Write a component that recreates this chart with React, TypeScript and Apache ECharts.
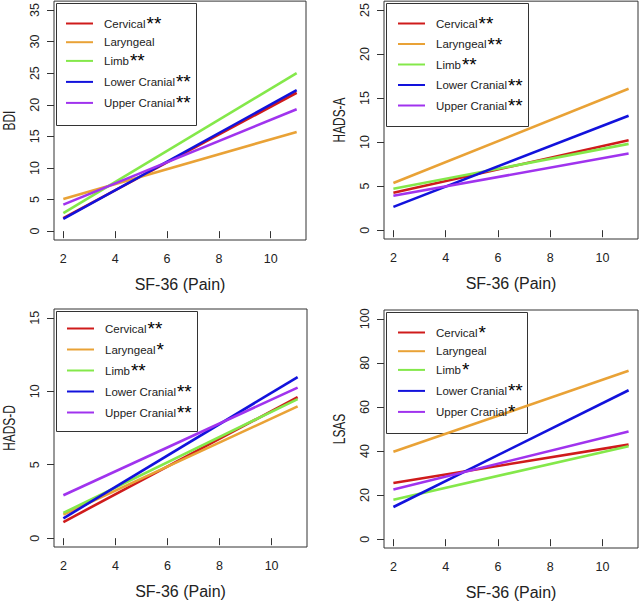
import React, { useEffect, useRef } from "react";
import * as echarts from "echarts";

// ---------- data ----------
const xEnds = [2, 11];
const xTicks = [2, 4, 6, 8, 10];
const groups = ["Cervical", "Laryngeal", "Limb", "Lower Cranial", "Upper Cranial"];
const groupColors = ["#CF1B1B", "#E9A236", "#84E84A", "#1212DC", "#A033EE"];

const panelTitles = ["BDI", "HADS-A", "HADS-D", "LSAS"];
const xTitle = "SF-36 (Pain)";

const bdiTicks = [0, 5, 10, 15, 20, 25, 30, 35];
const hadsATicks = [0, 5, 10, 15, 20, 25];
const hadsDTicks = [0, 5, 10, 15];
const lsasTicks = [0, 20, 40, 60, 80, 100];

// fitted values at SF-36 (Pain) = 2 and = 11
const bdiStart = [2.05, 5.1, 2.85, 1.95, 4.2];
const bdiEnd = [21.9, 15.7, 25.0, 22.3, 19.3];
const hadsAStart = [4.25, 5.35, 4.7, 2.65, 3.9];
const hadsAEnd = [10.2, 16.05, 9.8, 13.0, 8.7];
const hadsDStart = [1.1, 1.6, 1.72, 1.35, 2.92];
const hadsDEnd = [9.6, 8.97, 9.47, 10.97, 10.25];
const lsasStart = [25.5, 39.7, 17.9, 14.6, 22.5];
const lsasEnd = [42.9, 76.4, 42.2, 67.6, 48.9];

const bdiStars = ["**", "", "**", "**", "**"];
const hadsAStars = ["**", "**", "**", "**", "**"];
const hadsDStars = ["**", "*", "**", "**", "**"];
const lsasStars = ["*", "", "*", "**", "*"];

const panelTicks = [bdiTicks, hadsATicks, hadsDTicks, lsasTicks];
const panelStart = [bdiStart, hadsAStart, hadsDStart, lsasStart];
const panelEnd = [bdiEnd, hadsAEnd, hadsDEnd, lsasEnd];
const panelStars = [bdiStars, hadsAStars, hadsDStars, lsasStars];

// ---------- layout ----------
const grids = [
  { left: 54, top: 1, width: 252, height: 239 },
  { left: 384, top: 1, width: 254, height: 238 },
  { left: 54, top: 309, width: 253, height: 238 },
  { left: 384, top: 310, width: 254, height: 238 },
];
const legendPos = [
  { left: 65, top: 14, gap: 2 },
  { left: 397, top: 14, gap: 1.5 },
  { left: 66, top: 319, gap: 2 },
  { left: 397, top: 323, gap: 2 },
];
const legendBox = [
  { w: 140, h: 122 },
  { w: 142, h: 123 },
  { w: 141, h: 120 },
  { w: 141, h: 121 },
];

const FONT = "'Liberation Sans', Arial, sans-serif";
const AXIS_COLOR = "#333";
const TEXT_COLOR = "#222";

function rExtent(vals: number[]) {
  const lo = vals[0];
  const hi = vals[vals.length - 1];
  const pad = (hi - lo) * 0.04;
  return [lo - pad, hi + pad];
}

export default function App() {
  const ref = useRef<HTMLDivElement>(null);

  useEffect(() => {
    if (!ref.current) return;
    const chart = echarts.init(ref.current, undefined, { renderer: "svg" });

    const xExt = rExtent(xEnds);
    const xAxes: any[] = [];
    const yAxes: any[] = [];
    const series: any[] = [];
    const legends: any[] = [];
    const graphics: any[] = [];

    grids.forEach((g, p) => {
      xAxes.push({
        type: "value",
        gridIndex: p,
        min: xExt[0],
        max: xExt[1],
        name: xTitle,
        nameLocation: "middle",
        nameGap: 36,
        nameTextStyle: { fontSize: 16, color: TEXT_COLOR, fontFamily: FONT },
        axisLine: { show: false },
        splitLine: { show: false },
        axisTick: {
          show: true,
          length: 7,
          customValues: xTicks,
          lineStyle: { color: AXIS_COLOR, width: 1 },
        },
        axisLabel: {
          customValues: xTicks,
          margin: 12,
          fontSize: 12.5,
          color: TEXT_COLOR,
          fontFamily: FONT,
        },
      });
      const ticks = panelTicks[p];
      const yExt = rExtent(ticks);
      yAxes.push({
        type: "value",
        gridIndex: p,
        min: yExt[0],
        max: yExt[1],
        axisLine: { show: false },
        splitLine: { show: false },
        axisTick: {
          show: true,
          length: 7,
          customValues: ticks,
          lineStyle: { color: AXIS_COLOR, width: 1 },
        },
        axisLabel: {
          customValues: ticks,
          rotate: 90,
          margin: 13,
          fontSize: 12.5,
          color: TEXT_COLOR,
          fontFamily: FONT,
        },
      });

      const names: string[] = [];
      groups.forEach((grp, k) => {
        const nm = grp + panelStars[p][k];
        names.push(nm);
        series.push({
          type: "line",
          name: nm,
          xAxisIndex: p,
          yAxisIndex: p,
          data: [
            [xEnds[0], panelStart[p][k]],
            [xEnds[1], panelEnd[p][k]],
          ],
          symbol: "none",
          showSymbol: false,
          color: groupColors[k],
          lineStyle: { color: groupColors[k], width: 2.6 },
          z: 3,
        });
      });

      const lp = legendPos[p];
      legends.push({
        orient: "vertical",
        left: lp.left,
        top: lp.top,
        padding: 0,
        itemGap: lp.gap,
        itemWidth: 27,
        itemHeight: 18,
        selectedMode: false,
        data: names,
        itemStyle: { opacity: 0 },
        lineStyle: { width: 2, opacity: 1 },
        formatter: (name: string) => {
          const m = name.match(/^(.*?)(\**)$/);
          const base = m ? m[1] : name;
          const st = m ? m[2] : "";
          return st ? `{t|${base}}{s|${st}}` : `{t|${base}}`;
        },
        textStyle: {
          rich: {
            t: {
              fontSize: 11.5,
              fontFamily: FONT,
              color: TEXT_COLOR,
              lineHeight: 18,
              padding: [0, 0, 0, 6],
            },
            s: {
              fontSize: 19,
              fontFamily: FONT,
              color: "#000",
              lineHeight: 18,
              padding: [0, 0, 0, 1],
            },
          },
        },
      });

      graphics.push({
        type: "rect",
        left: g.left,
        top: g.top,
        shape: { x: 0, y: 0, width: legendBox[p].w, height: legendBox[p].h },
        style: { fill: "none", stroke: AXIS_COLOR, lineWidth: 1 },
        z: 1,
        silent: true,
      });
      graphics.push({
        type: "text",
        x: g.left - 45,
        y: g.top + g.height / 2,
        rotation: Math.PI / 2,
        scaleX: 0.7,
        silent: true,
        style: {
          text: panelTitles[p],
          fontSize: 17,
          fontFamily: FONT,
          fill: TEXT_COLOR,
          align: "center",
          verticalAlign: "middle",
        },
      });
    });

    chart.setOption({
      animation: false,
      backgroundColor: "#fff",
      grid: grids.map((g) => ({
        ...g,
        show: true,
        borderColor: AXIS_COLOR,
        borderWidth: 1,
        backgroundColor: "transparent",
        containLabel: false,
      })),
      xAxis: xAxes,
      yAxis: yAxes,
      legend: legends,
      series,
      graphic: graphics,
    });

    return () => chart.dispose();
  }, []);

  return (
    <div
      ref={ref}
      style={{ position: "absolute", left: 0, top: 0, width: 640, height: 603 }}
    />
  );
}
